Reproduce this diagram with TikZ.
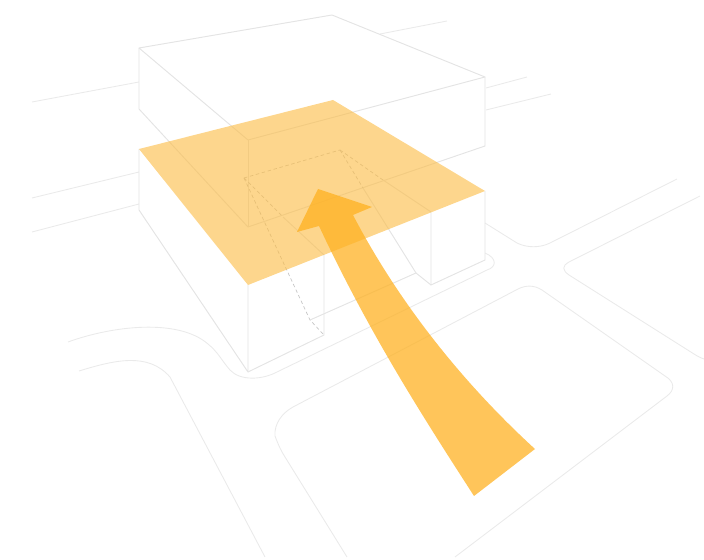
\documentclass[tikz,border=0pt]{standalone}
\definecolor{planeorange}{RGB}{252,187,65}
\definecolor{arroworange}{RGB}{255,177,32}
\definecolor{roadgrey}{RGB}{234,234,234}
\definecolor{massgrey}{RGB}{228,228,228}
\tikzset{
  road/.style={draw=roadgrey,line width=0.5pt},
  mass/.style={draw=massgrey,line width=0.55pt,line join=round},
  hidden/.style={draw=black!22,line width=0.4pt,dash pattern=on 2pt off 1.5pt},
}
\begin{document}
\begin{tikzpicture}[x=0.02cm,y=-0.02cm]
\useasboundingbox (0,0) rectangle (704,560);

% Roads on the left and behind the building
\draw[road] (32,102) -- (139,82);
\draw[road] (32,198) -- (139,172);
\draw[road] (32,232) -- (139,204);
\draw[road] (380,34) -- (447,21);
\draw[road] (486,88) -- (527,77);
\draw[road] (486,110) -- (551,94);

% Road edges with rounded corners
\draw[road] (485,223) -- (517,243) .. controls (527,248) and (540,248) .. (550,243) -- (677,179);
\draw[road] (700,196) -- (569,262) .. controls (562,266) and (562,270) .. (569,275) -- (694,354) .. controls (697,356) and (701,358) .. (704,359);
\draw[road] (485,253) .. controls (497,258) and (497,267) .. (487,270) -- (277,372)
  .. controls (262,380) and (240,381) .. (230,370) .. controls (222,361) and (218,352) .. (208,344)
  .. controls (178,318) and (112,326) .. (68,342);
\draw[road] (79,371) .. controls (115,360) and (148,352) .. (170,377) -- (265,557);
\draw[road] (455,557) -- (667,396) .. controls (675,390) and (675,382) .. (665,376) -- (542,290)
  .. controls (534,285) and (526,285) .. (518,289) -- (293,407)
  .. controls (282,413) and (274,424) .. (275,436) .. controls (278,444) and (281,451) .. (285,457) -- (347,557);

% Upper volume
\draw[mass] (139,48) -- (332,15) -- (485,77) -- (248,140) -- cycle;
\draw[mass] (139,48) -- (139,109) -- (248,227) -- (485,146) -- (485,77);
\draw[mass] (248,140) -- (248,227);

% Hidden corner of the lower volume
\draw[hidden] (244,178) -- (340,150);
\draw[hidden] (244,178) -- (283,217);
\draw[hidden] (340,150) -- (383,180);
\draw[hidden] (340,150) -- (363,188);
\draw[hidden] (244,178) -- (310,320) -- (324,335);
\draw[mass] (283,217) -- (324,255);
\draw[mass] (383,180) -- (431,212);
\draw[mass] (363,188) -- (416,273) -- (431,285);
\draw[mass] (310,320) -- (416,273);

% Lower volume
\draw[mass] (139,149) -- (139,210) -- (248,372) -- (248,285);
\draw[mass] (248,372) -- (324,335) -- (324,255);
\draw[mass] (431,212) -- (431,285) -- (485,260) -- (485,191);

% Floor plane
\fill[planeorange,fill opacity=0.6] (139,149) -- (333,100) -- (485,191) -- (248,285) -- cycle;

% Arrow
\fill[arroworange,fill opacity=0.74] (474,496) .. controls (425,420) and (370,335) .. (319,226)
  -- (297,232) -- (318,189) -- (372,207) -- (353,215)
  .. controls (400,305) and (465,385) .. (535,449) -- cycle;

\end{tikzpicture}
\end{document}
